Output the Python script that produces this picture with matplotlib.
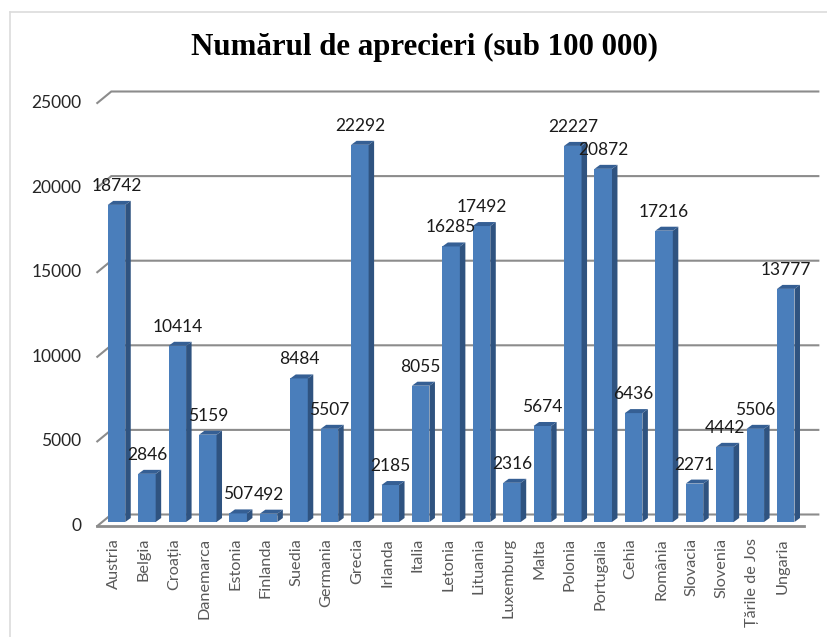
import matplotlib
matplotlib.use("Agg")
import matplotlib.pyplot as plt
from matplotlib.patches import Polygon

categories = ["Austria", "Belgia", "Croația", "Danemarca", "Estonia", "Finlanda", "Suedia",
              "Germania", "Grecia", "Irlanda", "Italia", "Letonia", "Lituania", "Luxemburg",
              "Malta", "Polonia", "Portugalia", "Cehia", "România", "Slovacia", "Slovenia",
              "Țările de Jos", "Ungaria"]
values = [18742, 2846, 10414, 5159, 507, 492, 8484, 5507, 22292, 2185, 8055, 16285, 17492,
          2316, 5674, 22227, 20872, 6436, 17216, 2271, 4442, 5506, 13777]
y_ticks = [0, 5000, 10000, 15000, 20000, 25000]
title = "Numărul de aprecieri (sub 100 000)"

W, H = 828, 637
fig = plt.figure(figsize=(W / 100, H / 100), dpi=100, facecolor="white")
ax = fig.add_axes([0, 0, 1, 1])
ax.set_axis_off()

X0, PITCH = 116.5, 30.42     # pixel centre of first bar, bar pitch
Y0, PXU = 522.0, 84.6 / 5000  # pixel of value 0, pixels per value unit
ax.set_xlim(-X0 / PITCH, (W - X0) / PITCH)
ax.set_ylim(-(H - Y0) / PXU, Y0 / PXU)

bw = 17.5 / PITCH
depth_x, depth_y = 5.5 / PITCH, 4.0 / PXU
grid_col = "#8c8c8c"
left, right = -0.5 - 4 / PITCH, len(categories) - 0.5 + 4 / PITCH - 0.02
back_x, back_y = 14.0 / PITCH, 11.5 / PXU
base = -4.0 / PXU

# outer frame: top and left edges run off the picture
fr_l, fr_t = left - 87.5 / PITCH, (Y0 - 12) / PXU
ax.plot([fr_l, fr_l], [-(H + 5 - Y0) / PXU, fr_t], color="#dcdcdc", lw=1.2, zorder=0)
ax.plot([fr_l, (W + 5 - X0) / PITCH], [fr_t, fr_t], color="#dcdcdc", lw=1.2, zorder=0)

# back-wall gridlines and left-wall stubs
for t in y_ticks:
    ax.plot([left, left + back_x, right + back_x], [t + base, t + base + back_y, t + base + back_y],
            color=grid_col, lw=1.5, zorder=1, solid_joinstyle="miter")
ax.plot([left, right], [base, base], color=grid_col, lw=2.0, zorder=1)

# bars: front face, side face and top face
for i, v in enumerate(values):
    ax.bar(i, v, width=bw, color="#4a7ebb", edgecolor="none", zorder=3 + i * 0.01)
    r, l = i + bw / 2, i - bw / 2
    ax.add_patch(Polygon([(r, 0), (r + depth_x, depth_y), (r + depth_x, v + depth_y), (r, v)],
                         closed=True, fc="#2f5380", ec="none", zorder=3 + i * 0.01))
    ax.add_patch(Polygon([(l, v), (l + depth_x, v + depth_y), (r + depth_x, v + depth_y), (r, v)],
                         closed=True, fc="#355f94", ec="none", zorder=3 + i * 0.01))
    ax.text(i, v + 19 / PXU, str(v), ha="center", va="center", fontsize=12.5,
            family="Lato", color="#1a1a1a", zorder=6)
    ax.annotate(categories[i], xy=(i, base), xytext=(-3, -12), textcoords="offset pixels",
                rotation=90, ha="center", va="top", fontsize=11.7, family="Lato",
                color="#595959", zorder=6)

# value-axis tick labels
for t in y_ticks:
    ax.annotate(str(t), xy=(left, t + base), xytext=(-16, 0), textcoords="offset pixels",
                ha="right", va="center", fontsize=12.5, family="Lato", color="#262626")

fig.text(425 / W, 1 - 47 / H, title, ha="center", va="center", fontsize=22.2,
         family="Liberation Serif", fontweight="bold", color="black")

fig.savefig("out.png", dpi=100, facecolor="white")
